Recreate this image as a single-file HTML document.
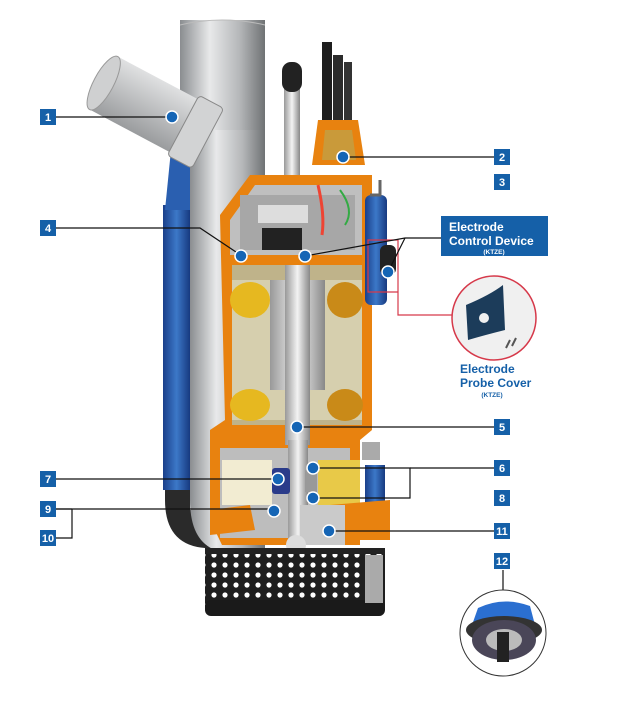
<!DOCTYPE html>
<html><head><meta charset="utf-8"><style>
body{margin:0;background:#fff;width:625px;height:700px;overflow:hidden;font-family:"Liberation Sans",sans-serif}
</style></head><body>
<svg width="625" height="700" viewBox="0 0 625 700" xmlns="http://www.w3.org/2000/svg" font-family="Liberation Sans, sans-serif">
<defs>
<linearGradient id="pipe" x1="0" x2="1"><stop offset="0" stop-color="#8a8d90"/><stop offset=".35" stop-color="#e8e9ea"/><stop offset=".7" stop-color="#b5b7b9"/><stop offset="1" stop-color="#6f7274"/></linearGradient>
<linearGradient id="blue" x1="0" x2="1"><stop offset="0" stop-color="#1a3f8a"/><stop offset=".5" stop-color="#3c78c8"/><stop offset="1" stop-color="#173a80"/></linearGradient>
<linearGradient id="rot" x1="0" x2="1"><stop offset="0" stop-color="#999"/><stop offset=".5" stop-color="#f3f3f3"/><stop offset="1" stop-color="#888"/></linearGradient>
<linearGradient id="inl" x1="0" y1="0" x2="0" y2="1"><stop offset="0" stop-color="#e0e1e2"/><stop offset="1" stop-color="#9a9c9e"/></linearGradient>
<pattern id="holes" width="11" height="10" patternUnits="userSpaceOnUse"><rect width="11" height="10" fill="#1e1e1e"/><circle cx="5" cy="5" r="2.6" fill="#fff"/></pattern>
</defs>
<!-- blue hose -->
<path d="M165 205 L165 500 Q165 545 205 548 L220 548 L220 510 L190 510 L190 205 Z" fill="#2a2a2a"/>
<rect x="163" y="205" width="27" height="285" fill="url(#blue)"/>
<path d="M172 140 Q195 130 200 150 L190 210 L165 210 Z" fill="#2a5fb0"/>
<!-- discharge pipe -->
<rect x="180" y="20" width="85" height="110" fill="url(#pipe)"/>
<path d="M180 25 Q222 15 265 25" stroke="#bbb" fill="none"/>
<path d="M190 130 L265 130 L265 550 L215 550 Q190 540 190 500 Z" fill="url(#pipe)"/>
<!-- inlet angled pipe -->
<g transform="translate(175,130) rotate(28)">
<rect x="-85" y="-38" width="100" height="60" fill="url(#inl)"/>
<rect x="5" y="-42" width="28" height="68" rx="4" fill="#d2d3d4" stroke="#888"/>
<ellipse cx="-85" cy="-8" rx="10" ry="30" fill="#cfd0d1" stroke="#999"/>
</g>
<!-- handle rod -->
<rect x="284" y="80" width="16" height="95" fill="url(#rot)"/>
<rect x="282" y="62" width="20" height="30" rx="9" fill="#222"/>
<!-- cables -->
<rect x="322" y="42" width="10" height="120" fill="#1e1e1e"/>
<rect x="333" y="55" width="10" height="110" fill="#2b2b2b"/>
<rect x="344" y="62" width="8" height="100" fill="#333"/>
<!-- cable cap -->
<path d="M312 165 L318 120 L358 120 L365 165 Z" fill="#e8820f"/>
<path d="M322 160 L325 130 L352 130 L356 160 Z" fill="#c99a3a"/>
<!-- motor housing -->
<path d="M220 215 L250 175 L372 175 L372 430 L360 440 L360 545 L222 545 L210 520 L210 430 L225 420 Z" fill="#e8820f"/>
<path d="M230 220 L255 185 L362 185 L362 255 L230 255 Z" fill="#bfbfbf"/>
<rect x="240" y="195" width="115" height="55" fill="#a7a7a7"/>
<rect x="258" y="205" width="50" height="18" fill="#ddd"/>
<rect x="262" y="228" width="40" height="22" fill="#222"/>
<path d="M318 185 Q325 215 322 235" stroke="#e43" stroke-width="3" fill="none"/>
<path d="M340 190 Q355 210 345 225" stroke="#3a4" stroke-width="2" fill="none"/>
<rect x="232" y="265" width="130" height="160" fill="#bfb38a"/>
<rect x="232" y="280" width="130" height="140" fill="#d6cfae"/>
<ellipse cx="250" cy="300" rx="20" ry="18" fill="#e6b820"/>
<ellipse cx="345" cy="300" rx="18" ry="18" fill="#c98a18"/>
<ellipse cx="250" cy="405" rx="20" ry="16" fill="#e6b820"/>
<ellipse cx="345" cy="405" rx="18" ry="16" fill="#c98a18"/>
<rect x="270" y="280" width="55" height="110" fill="url(#rot)"/>
<rect x="285" y="265" width="25" height="180" fill="url(#rot)"/>
<!-- lower seal section -->
<rect x="220" y="448" width="130" height="90" fill="#bdbdbd"/>
<rect x="222" y="460" width="50" height="45" fill="#f2ecd2"/>
<rect x="318" y="460" width="42" height="45" fill="#e8c948"/>
<rect x="288" y="440" width="20" height="100" fill="url(#rot)"/>
<rect x="272" y="468" width="18" height="26" rx="3" fill="#2a3b8a"/>
<rect x="305" y="470" width="12" height="22" fill="#999"/>
<rect x="362" y="442" width="18" height="18" fill="#aaa"/>
<rect x="365" y="465" width="20" height="45" fill="url(#blue)"/>
<path d="M210 510 L250 505 L255 530 L210 535 Z" fill="#e8820f"/>
<path d="M330 505 L390 500 L390 540 L330 540 Z" fill="#e8820f"/>
<rect x="300" y="505" width="45" height="40" fill="#cacaca"/>
<ellipse cx="296" cy="545" rx="10" ry="10" fill="#ddd"/>
<!-- right probe -->
<rect x="365" y="195" width="22" height="110" rx="6" fill="url(#blue)"/>
<path d="M380 180 L380 195 L370 195" stroke="#666" stroke-width="3" fill="none"/>
<rect x="380" y="245" width="16" height="30" rx="6" fill="#222"/>
<!-- strainer -->
<path d="M205 552 L385 552 L385 605 Q385 615 375 615 L215 615 Q205 615 205 605 Z" fill="url(#holes)"/>
<rect x="205" y="548" width="180" height="6" fill="#222"/>
<rect x="205" y="600" width="180" height="16" rx="6" fill="#1a1a1a"/>
<rect x="365" y="555" width="18" height="48" fill="#aaa"/>
<!-- red probe callout -->
<path d="M368 240 L398 240 L398 292 L368 292 Z M398 292 L398 315 L455 315" stroke="#d6394a" stroke-width="1.2" fill="none"/>
<!-- leader lines -->
<g stroke="#111" stroke-width="1.2" fill="none">
<line x1="56" y1="117" x2="172" y2="117"/>
<polyline points="56,228 200,228 242,256"/>
<polyline points="56,479 278,479"/>
<polyline points="56,509 280,509"/>
<polyline points="56,538 72,538 72,509"/>
<line x1="56" y1="509" x2="72" y2="509"/>
<line x1="343" y1="157" x2="494" y2="157"/>
<polyline points="305,256 405,238 441,238"/>
<polyline points="388,272 405,238"/>
<line x1="297" y1="427" x2="494" y2="427"/>
<polyline points="313,468 410,468 410,498 313,498"/>
<line x1="410" y1="468" x2="494" y2="468"/>
<line x1="329" y1="531" x2="494" y2="531"/>
<line x1="503" y1="570" x2="503" y2="590"/>
</g>
<g fill="#1565b5" stroke="#fff" stroke-width="1.5">
<circle cx="172" cy="117" r="6"/><circle cx="241" cy="256" r="6"/><circle cx="305" cy="256" r="6"/>
<circle cx="343" cy="157" r="6"/><circle cx="388" cy="272" r="6"/><circle cx="297" cy="427" r="6"/>
<circle cx="313" cy="468" r="6"/><circle cx="313" cy="498" r="6"/><circle cx="278" cy="479" r="6"/>
<circle cx="274" cy="511" r="6"/><circle cx="329" cy="531" r="6"/>
</g>
<!-- number boxes -->
<g fill="#1560a8">
<rect x="40" y="109" width="16" height="16"/><rect x="40" y="220" width="16" height="16"/>
<rect x="40" y="471" width="16" height="16"/><rect x="40" y="501" width="16" height="16"/>
<rect x="40" y="530" width="16" height="16"/>
<rect x="494" y="149" width="16" height="16"/><rect x="494" y="174" width="16" height="16"/>
<rect x="494" y="419" width="16" height="16"/><rect x="494" y="460" width="16" height="16"/>
<rect x="494" y="490" width="16" height="16"/><rect x="494" y="523" width="16" height="16"/>
<rect x="494" y="553" width="16" height="16"/>
<rect x="441" y="216" width="107" height="40"/>
</g>
<g fill="#fff" font-size="11" font-weight="bold" text-anchor="middle">
<text x="48" y="121">1</text><text x="48" y="232">4</text><text x="48" y="483">7</text>
<text x="48" y="513">9</text><text x="48" y="542">10</text>
<text x="502" y="161">2</text><text x="502" y="186">3</text><text x="502" y="431">5</text>
<text x="502" y="472">6</text><text x="502" y="502">8</text><text x="502" y="535">11</text>
<text x="502" y="565">12</text>
</g>
<text x="449" y="231" fill="#fff" font-size="12" font-weight="bold">Electrode</text>
<text x="449" y="245" fill="#fff" font-size="12" font-weight="bold">Control Device</text>
<text x="494" y="254" fill="#fff" font-size="6.5" font-weight="bold" text-anchor="middle">(KTZE)</text>
<!-- probe cover inset -->
<circle cx="494" cy="318" r="42" fill="#f0f0f0" stroke="#d6394a" stroke-width="1.5"/>
<path d="M466 305 Q490 295 503 285 L505 330 Q485 335 468 340 Z" fill="#1c3c5a"/>
<circle cx="484" cy="318" r="5" fill="#f0f0f0"/>
<path d="M510 340 l-4 8 M516 338 l-4 8" stroke="#555" stroke-width="2"/>
<text x="460" y="373" fill="#1560a8" font-size="12" font-weight="bold">Electrode</text>
<text x="460" y="387" fill="#1560a8" font-size="12" font-weight="bold">Probe Cover</text>
<text x="492" y="397" fill="#1560a8" font-size="6.5" font-weight="bold" text-anchor="middle">(KTZE)</text>
<!-- 12 inset -->
<circle cx="503" cy="633" r="43" fill="#fff" stroke="#333" stroke-width="1"/>
<path d="M478 608 Q503 596 530 606 L535 625 L472 625 Z" fill="#2b6fd0"/>
<ellipse cx="504" cy="630" rx="38" ry="14" fill="#333"/>
<ellipse cx="504" cy="640" rx="32" ry="20" fill="#4a4658"/>
<ellipse cx="504" cy="640" rx="18" ry="11" fill="#bbb"/>
<rect x="497" y="632" width="12" height="30" fill="#222"/>
</svg>
</body></html>
